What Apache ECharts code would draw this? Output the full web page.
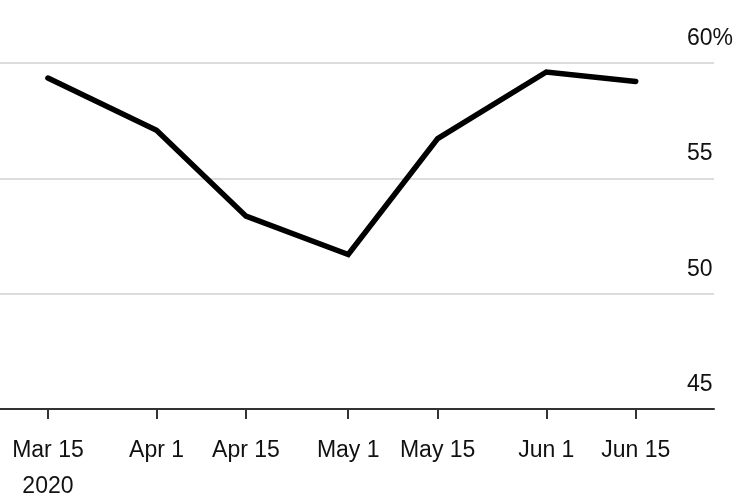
<!DOCTYPE html>
<html>
<head>
<meta charset="utf-8">
<script src="https://cdn.jsdelivr.net/npm/echarts@6/dist/echarts.min.js"></script>
<style>
html,body{margin:0;padding:0;background:#fff;}
#chart{width:737px;height:501px;}
</style>
</head>
<body>
<div id="chart"></div>
<script>
const dates = ['2020-03-15','2020-04-01','2020-04-15','2020-05-01','2020-05-15','2020-06-01','2020-06-15'];
const values = [59.35, 57.08, 53.36, 51.7, 56.72, 59.61, 59.2];
const tickDates = ['2020-03-15','2020-04-01','2020-04-15','2020-05-01','2020-05-15','2020-06-01','2020-06-15'];
const tickLabels = ['Mar 15\n2020','Apr 1','Apr 15','May 1','May 15','Jun 1','Jun 15'];
const yTicks = [45, 50, 55, 60];
const yTickLabels = ['45', '50', '55', '60%'];

const ts = d => { const p = d.split('-').map(Number); return Date.UTC(p[0], p[1]-1, p[2]); };
const tickTs = tickDates.map(ts);
const font = '"Liberation Sans", Helvetica, Arial, sans-serif';

const chart = echarts.init(document.getElementById('chart'), null, {renderer:'canvas'});
chart.setOption({
  animation: false,
  grid: {left: 0, right: 23, top: 63, bottom: 92, containLabel: false, outerBoundsMode: 'none'},
  xAxis: {
    type: 'value',
    min: Date.UTC(2020, 2, 7, 12),
    max: Date.UTC(2020, 5, 27, 6),
    axisLine: {show: true, lineStyle: {color: '#333', width: 2}},
    axisTick: {show: true, length: 10, lineStyle: {color: '#333', width: 2}, customValues: tickTs},
    axisLabel: {
      customValues: tickTs,
      margin: 24,
      fontSize: 23,
      lineHeight: 36,
      color: '#111',
      fontFamily: font,
      formatter: v => { const i = tickTs.indexOf(v); return i >= 0 ? tickLabels[i] : ''; }
    },
    splitLine: {show: false}
  },
  yAxis: {
    type: 'value',
    position: 'right',
    min: 45, max: 60, interval: 5,
    axisLine: {show: false},
    axisTick: {show: false},
    splitLine: {show: true, lineStyle: {color: '#dcdcdc', width: 2}},
    axisLabel: {
      inside: true,
      margin: 27,
      align: 'left',
      verticalAlign: 'bottom',
      padding: [0, 0, 13, 0],
      fontSize: 23,
      color: '#111',
      fontFamily: font,
      formatter: v => { const i = yTicks.indexOf(v); return i >= 0 ? yTickLabels[i] : ''; }
    }
  },
  series: [{
    type: 'line',
    data: dates.map((d, i) => [ts(d), values[i]]),
    showSymbol: false,
    lineStyle: {color: '#000', width: 5.5, cap: 'round', join: 'miter'},
    silent: true
  }]
});
</script>
</body>
</html>
